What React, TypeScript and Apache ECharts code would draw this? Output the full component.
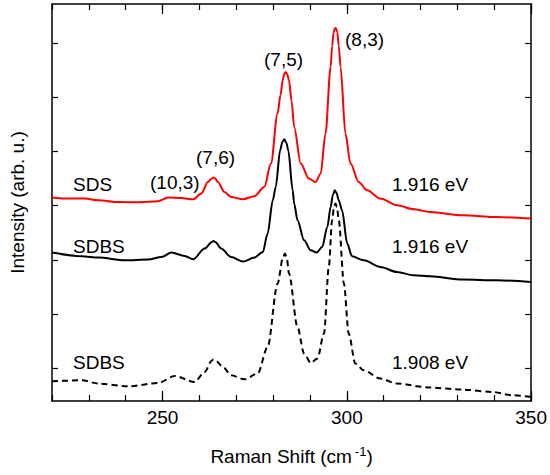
import React, { useEffect, useRef } from "react";
import * as echarts from "echarts";

// Raman shift (cm^-1) and intensity (arb. u.) for each spectrum
const sdsX = [220, 223.6, 229.0, 232.6, 238.0, 243.4, 248.8, 251.5, 255.1, 258.3, 260.5, 262.3, 263.4, 263.8, 264.3, 265.0, 266.8, 268.6, 271.8, 274.9, 277.6, 279.4, 281.2, 282.0, 282.6, 283.0, 283.4, 283.8, 284.3, 285.0, 285.7, 287.5, 289.7, 291.5, 292.9, 294.2, 295.6, 296.0, 296.4, 296.7, 297.0, 297.4, 297.8, 298.3, 299.6, 301.0, 303.2, 305.5, 309.1, 313.6, 318.1, 322.6, 331.5, 340.6, 350];
const sdsY = [203.4, 202.4, 202.4, 200.7, 199, 198.7, 199.7, 203.4, 203, 201.7, 207.4, 219, 222.6, 223.4, 222.6, 219, 209, 204, 201.7, 204.7, 214, 237.4, 287.4, 306, 320.7, 327, 329, 327, 320.7, 300, 274, 237.4, 222.4, 219, 227.4, 267.4, 334, 355, 368, 372.4, 373, 369, 355, 334, 267.4, 237.4, 219, 210.7, 202.4, 195.7, 191.7, 189, 185.7, 184, 182.4];

const sdbs1X = [220, 228.1, 232.6, 239.8, 246.1, 249.7, 252.4, 256.0, 258.3, 261.4, 263.4, 263.8, 264.3, 265.9, 268.6, 271.9, 274.9, 277.2, 278.5, 279.9, 280.7, 281.9, 282.5, 283.0, 283.6, 284.1, 285.3, 285.7, 286.6, 288.4, 290.2, 291.8, 293.3, 294.7, 295.6, 296.2, 296.7, 297.2, 297.8, 298.7, 300.1, 301.4, 304.6, 309.1, 313.6, 318.1, 322.6, 331.5, 340.6, 350];
const sdbs1Y = [148.4, 144.7, 143.4, 140.7, 141.4, 144, 148.4, 145, 141.7, 152.4, 159, 160, 159, 152.4, 144, 139.4, 143.4, 149, 167.4, 200.7, 214, 250.7, 259, 261.7, 258, 250.7, 210.7, 197.4, 180.7, 160.7, 150.7, 148.4, 154, 174, 194, 206, 210.7, 208, 200.7, 190.7, 157.4, 144.7, 140.7, 134, 129, 125.7, 124.7, 121.4, 120.7, 119];

const sdbs2X = [220, 228.1, 232.6, 240.7, 248.8, 253.3, 258.7, 261.4, 263.4, 263.8, 264.3, 266.4, 268.6, 272.2, 275.8, 278.5, 281.2, 282.7, 283.2, 283.7, 284.3, 286.6, 288.4, 290.2, 292.0, 293.8, 295.1, 296.0, 296.5, 296.9, 297.3, 297.8, 299.2, 300.5, 302.3, 304.6, 309.1, 313.6, 322.6, 331.5, 339.6, 345.0, 350];
const sdbs2Y = [19.7, 20.7, 17.4, 14.7, 18, 25, 19, 29, 40.6, 41.4, 40.6, 34, 25.7, 21.7, 27.4, 54, 117.4, 144, 147.4, 143, 127.4, 74, 47.4, 38, 42.4, 67.4, 134, 180.7, 194, 197.4, 194, 180.7, 117.4, 67.4, 37.4, 30.7, 22.4, 17.4, 13.4, 11.4, 9, 5.7, 4];

const xMajorTicks = [250, 300, 350];
const yTickValues = [33, 87, 141, 196, 250, 304, 358];

const peakLabels = ["(10,3)", "(7,6)", "(7,5)", "(8,3)"];
const sampleLabels = ["SDS", "SDBS", "SDBS"];
const energyLabels = ["1.916 eV", "1.916 eV", "1.908 eV"];

const FONT = "'Liberation Sans', Arial, Helvetica, sans-serif";

const zip = (xs: number[], ys: number[]) => xs.map((x, i) => [x, ys[i]]);

export default function App() {
  const ref = useRef<HTMLDivElement>(null);
  useEffect(() => {
    document.body.style.margin = "0";
    if (!ref.current) return;
    const chart = echarts.init(ref.current, null, { renderer: "svg" });
    const lineAxis = { show: true, lineStyle: { color: "#000", width: 1.5 } };
    const baseX = {
      type: "value" as const,
      min: 220,
      max: 350,
      splitLine: { show: false },
    };
    const textStyle = (t: string, x: number, y: number) => ({
      type: "text",
      x,
      y,
      style: {
        text: t,
        fill: "#000",
        font: `19px ${FONT}`,
        textAlign: "left",
        textVerticalAlign: "middle",
        verticalAlign: "middle",
      },
    });
    chart.setOption({
      animation: false,
      grid: { left: 50, right: 18, top: 4, bottom: 74, containLabel: false },
      xAxis: [
        {
          ...baseX,
          position: "bottom",
          interval: 10,
          axisLine: lineAxis,
          axisTick: { show: true, inside: true, length: 6, lineStyle: { color: "#000", width: 1.2 } },
          axisLabel: {
            show: true,
            customValues: xMajorTicks,
            color: "#000",
            fontSize: 19,
            fontFamily: FONT,
            margin: 7,
          },
          name: "Raman Shift (cm{sup|-1})",
          nameLocation: "middle",
          nameGap: 44,
          nameTextStyle: {
            color: "#000",
            fontSize: 19,
            fontFamily: FONT,
            rich: {
              sup: { fontSize: 13, fontFamily: FONT, color: "#000", verticalAlign: "top", padding: [0, 0, 10, 3] },
            },
          },
        },
        {
          ...baseX,
          position: "bottom",
          axisLine: { show: false },
          axisTick: { show: true, inside: true, length: 10, customValues: xMajorTicks, lineStyle: { color: "#000", width: 1.2 } },
          axisLabel: { show: false },
        },
        {
          ...baseX,
          position: "top",
          interval: 10,
          axisLine: lineAxis,
          axisTick: { show: true, inside: true, length: 6, lineStyle: { color: "#000", width: 1.2 } },
          axisLabel: { show: false },
        },
        {
          ...baseX,
          position: "top",
          axisLine: { show: false },
          axisTick: { show: true, inside: true, length: 10, customValues: xMajorTicks, lineStyle: { color: "#000", width: 1.2 } },
          axisLabel: { show: false },
        },
      ],
      yAxis: [
        {
          type: "value",
          min: 0,
          max: 397,
          position: "left",
          axisLine: lineAxis,
          axisTick: { show: true, inside: true, length: 6, customValues: yTickValues, lineStyle: { color: "#000", width: 1.2 } },
          axisLabel: { show: false },
          splitLine: { show: false },
          name: "Intensity (arb. u.)",
          nameLocation: "middle",
          nameGap: 25,
          nameTextStyle: { color: "#000", fontSize: 19, fontFamily: FONT },
        },
        {
          type: "value",
          min: 0,
          max: 397,
          position: "right",
          axisLine: lineAxis,
          axisTick: { show: true, inside: true, length: 6, customValues: yTickValues, lineStyle: { color: "#000", width: 1.2 } },
          axisLabel: { show: false },
          splitLine: { show: false },
        },
      ],
      series: [
        {
          type: "line",
          name: "SDS 1.916 eV",
          data: zip(sdsX, sdsY),
          showSymbol: false,
          smooth: 0.3,
          smoothMonotone: "x",
          lineStyle: { color: "#ff0000", width: 2 },
          xAxisIndex: 0,
          yAxisIndex: 0,
        },
        {
          type: "line",
          name: "SDBS 1.916 eV",
          data: zip(sdbs1X, sdbs1Y),
          showSymbol: false,
          smooth: 0.3,
          smoothMonotone: "x",
          lineStyle: { color: "#000", width: 2 },
          xAxisIndex: 0,
          yAxisIndex: 0,
        },
        {
          type: "line",
          name: "SDBS 1.908 eV",
          data: zip(sdbs2X, sdbs2Y),
          showSymbol: false,
          smooth: 0.3,
          smoothMonotone: "x",
          lineStyle: { color: "#000", width: 2, type: [6, 4] },
          xAxisIndex: 0,
          yAxisIndex: 0,
        },
      ],
      graphic: [
        textStyle(sampleLabels[0], 73, 184),
        textStyle(peakLabels[0], 150, 182),
        textStyle(peakLabels[1], 196, 157),
        textStyle(peakLabels[2], 264, 59),
        textStyle(peakLabels[3], 345, 39),
        textStyle(energyLabels[0], 392, 184),
        textStyle(sampleLabels[1], 73, 246),
        textStyle(energyLabels[1], 392, 246),
        textStyle(sampleLabels[2], 73, 362),
        textStyle(energyLabels[2], 392, 362),
      ],
    });
    return () => chart.dispose();
  }, []);
  return <div ref={ref} style={{ width: 550, height: 475 }} />;
}
